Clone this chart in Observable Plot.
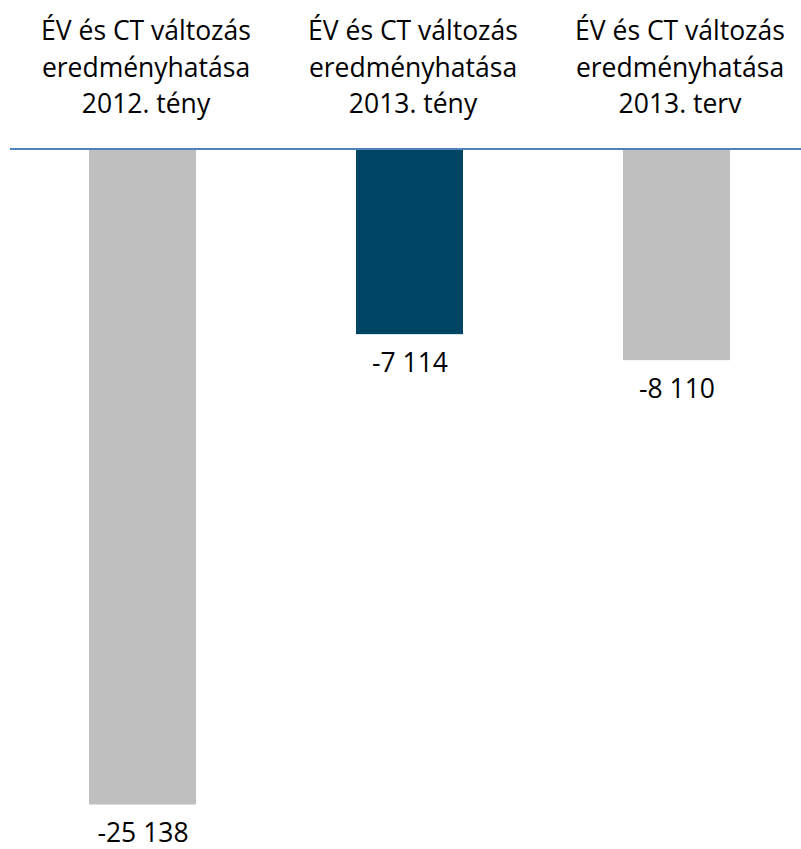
<!DOCTYPE html>
<html>
<head>
<meta charset="utf-8">
<script src="https://cdn.jsdelivr.net/npm/d3@7"></script>
<script src="https://cdn.jsdelivr.net/npm/@observablehq/plot@0.6"></script>
<style>
  html, body { margin: 0; padding: 0; background: #fff; }
  #chart svg { display: block; }
</style>
</head>
<body>
<div id="chart"></div>
<script>
const categories = [
  "ÉV és CT változás\neredményhatása\n2012. tény",
  "ÉV és CT változás\neredményhatása\n2013. tény",
  "ÉV és CT változás\neredményhatása\n2013. terv"
];
const values = [-25138, -7114, -8110];
const valueLabels = ["-25 138", "-7 114", "-8 110"];

const data = categories.map((c, i) => ({cat: c, value: values[i], label: valueLabels[i]}));

const fontSize = 26.5;
const chart = Plot.plot({
  width: 801,
  height: 849,
  marginTop: 148.5,
  marginBottom: 44.5,
  marginLeft: 10,
  marginRight: 0,
  style: {fontFamily: "'Open Sans', sans-serif", fontSize: fontSize + "px", color: "#000", background: "#fff"},
  x: {domain: categories, range: [8.5, 809.5], paddingInner: 0.6, paddingOuter: 0.3, align: 0.5, axis: null},
  y: {domain: [-25138, 0], axis: null},
  color: {domain: categories, range: ["#BFBFBF", "#004563", "#BFBFBF"]},
  marks: [
    Plot.barY(data, {x: "cat", y: "value", fill: "cat"}),
    Plot.axisX({anchor: "top", tickSize: 0, tickPadding: 36, fontSize: fontSize, lineHeight: 36.5 / fontSize, fill: "#000", label: null, dx: 3}),
    Plot.ruleY([0], {stroke: "#4F81BD", strokeWidth: 2}),
    Plot.text(data, {x: "cat", y: "value", text: "label", lineAnchor: "bottom", dy: 37, fontSize: fontSize, fill: "#000"})
  ]
});
document.getElementById("chart").appendChild(chart);
</script>
</body>
</html>
